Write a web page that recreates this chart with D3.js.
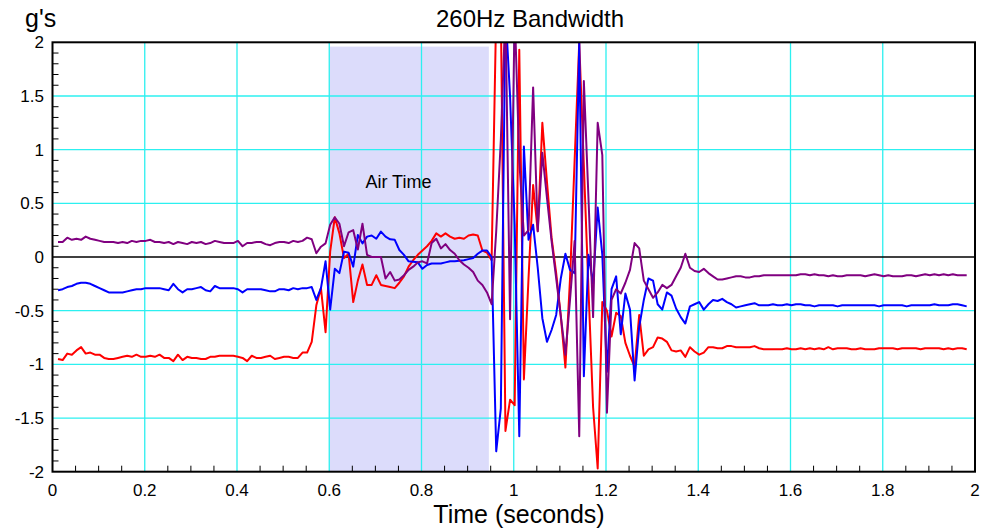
<!DOCTYPE html>
<html>
<head>
<meta charset="utf-8">
<script src="https://cdn.jsdelivr.net/npm/d3@7"></script>
<style>
  body { margin: 0; background: #fff; }
  svg text { font-family: "Liberation Sans", Arial, Helvetica, sans-serif; fill: #000; }
</style>
</head>
<body>
<svg id="chart"></svg>
<script>
const SVG_W = 990;
const SVG_H = 532;

// sampling of the three traces: first sample time and step (seconds)
const T0 = 0.012;
const DT = 0.01;

const X_TICKS = [0, 0.2, 0.4, 0.6, 0.8, 1, 1.2, 1.4, 1.6, 1.8, 2];
const Y_TICKS = [-2, -1.5, -1, -0.5, 0, 0.5, 1, 1.5, 2];

const AIR_TIME = { start: 0.6, end: 0.946, top: 1.96, label: 'Air Time', labelX: 0.75, labelY: 0.64 };

const purple = [
  0.14, 0.14, 0.18, 0.16, 0.17, 0.16, 0.19, 0.17, 0.16, 0.15,
  0.14, 0.14, 0.14, 0.13, 0.14, 0.13, 0.15, 0.14, 0.15, 0.15,
  0.16, 0.14, 0.14, 0.13, 0.14, 0.12, 0.14, 0.13, 0.12, 0.14,
  0.13, 0.14, 0.12, 0.13, 0.15, 0.14, 0.13, 0.13, 0.13, 0.15,
  0.10, 0.13, 0.13, 0.14, 0.14, 0.12, 0.11, 0.13, 0.14, 0.14,
  0.13, 0.15, 0.14, 0.15, 0.18, 0.165, 0.035, 0.096, 0.127, 0.30,
  0.37, 0.31, 0.10, 0.23, 0.25, 0.07, 0.31, 0.02, 0.00, 0.00,
  0.00, -0.20, -0.14, -0.22, -0.21, -0.17, -0.12, -0.09, -0.05, -0.04,
  -0.06, 0.13, 0.17, 0.08, 0.12, 0.065, 0.03, -0.03, -0.07, -0.10,
  -0.14, -0.22, -0.26, -0.33, -0.44, 0.24, 1.09, 2.3, -0.58, 2.3,
  0.9, 0.2, 0.25, 1.58, 0.24, 0.97, 0.55, 0.15, -0.2, -0.55,
  -0.91, -0.4, 0.15, -1.67, 1.64, 0.55, -0.56, 1.25, 0.95, -1.45,
  -0.40, -0.30, -0.34, -0.24, -0.12, 0.13, 0.08, -0.22, -0.30, -0.38,
  -0.33, -0.26, -0.29, -0.26, -0.18, -0.10, 0.03, -0.10, -0.13, -0.14,
  -0.11, -0.15, -0.18, -0.21, -0.21, -0.20, -0.19, -0.18, -0.18, -0.19,
  -0.19, -0.18, -0.18, -0.17, -0.17, -0.17, -0.17, -0.17, -0.17, -0.17,
  -0.17, -0.16, -0.16, -0.17, -0.16, -0.17, -0.17, -0.18, -0.17, -0.18,
  -0.18, -0.17, -0.17, -0.17, -0.17, -0.18, -0.17, -0.16, -0.17, -0.18,
  -0.17, -0.18, -0.18, -0.18, -0.17, -0.17, -0.18, -0.17, -0.16, -0.17,
  -0.16, -0.17, -0.16, -0.17, -0.16, -0.17, -0.17, -0.17
];

const blue = [
  -0.31, -0.30, -0.28, -0.27, -0.25, -0.24, -0.24, -0.25, -0.27, -0.29,
  -0.31, -0.33, -0.33, -0.33, -0.33, -0.32, -0.31, -0.30, -0.30, -0.29,
  -0.29, -0.29, -0.29, -0.30, -0.31, -0.25, -0.30, -0.33, -0.30, -0.30,
  -0.29, -0.28, -0.31, -0.32, -0.27, -0.29, -0.29, -0.29, -0.29, -0.30,
  -0.33, -0.30, -0.30, -0.30, -0.30, -0.31, -0.32, -0.32, -0.30, -0.30,
  -0.31, -0.29, -0.30, -0.29, -0.29, -0.28, -0.40, -0.29, -0.04, -0.49,
  -0.11, -0.15, 0.05, 0.04, -0.09, 0.205, 0.127, 0.19, 0.20, 0.17,
  0.236, 0.19, 0.165, 0.16, 0.065, 0.02, -0.04, -0.045, -0.05, -0.11,
  -0.075, -0.06, -0.06, -0.06, -0.05, -0.04, -0.04, -0.035, -0.03, -0.02,
  -0.01, 0.03, 0.06, 0.06, 0.0, -1.81, -1.41, 2.3, 1.5, 0.3,
  -1.67, 1.03, 0.16, 0.30, -0.1, -0.57, -0.79, -0.68, -0.54, -0.2,
  0.03, -0.12, -0.15, 2.0, -1.11, 0.02, -0.25, 0.46, 0.02, -1.07,
  -0.30, -0.18, -0.72, -0.34, -0.49, -1.15, -0.65, -0.40, -0.20, -0.22,
  -0.44, -0.49, -0.33, -0.36, -0.48, -0.56, -0.62, -0.46, -0.44, -0.42,
  -0.49, -0.44, -0.40, -0.41, -0.39, -0.42, -0.44, -0.47, -0.46, -0.45,
  -0.44, -0.43, -0.45, -0.45, -0.45, -0.44, -0.45, -0.45, -0.44, -0.45,
  -0.44, -0.44, -0.45, -0.45, -0.46, -0.45, -0.45, -0.45, -0.45, -0.46,
  -0.45, -0.45, -0.45, -0.45, -0.45, -0.45, -0.45, -0.45, -0.46, -0.45,
  -0.45, -0.45, -0.45, -0.45, -0.46, -0.45, -0.45, -0.45, -0.45, -0.45,
  -0.44, -0.45, -0.45, -0.45, -0.44, -0.44, -0.45, -0.46
];

const red = [
  -0.95, -0.96, -0.90, -0.91, -0.87, -0.84, -0.90, -0.89, -0.91, -0.91,
  -0.94, -0.95, -0.95, -0.94, -0.93, -0.92, -0.93, -0.91, -0.93, -0.93,
  -0.92, -0.93, -0.91, -0.94, -0.94, -0.97, -0.91, -0.96, -0.93, -0.94,
  -0.94, -0.95, -0.95, -0.93, -0.93, -0.92, -0.92, -0.92, -0.92, -0.93,
  -0.94, -0.97, -0.92, -0.94, -0.94, -0.93, -0.92, -0.95, -0.94, -0.93,
  -0.93, -0.94, -0.94, -0.89, -0.89, -0.79, -0.45, -0.29, -0.70, 0.05,
  0.37, 0.22, -0.01, 0.03, -0.42, -0.22, -0.07, -0.26, -0.26, -0.17,
  -0.26, -0.27, -0.28, -0.29, -0.24, -0.18, -0.09, -0.03, 0.02, 0.06,
  0.10, 0.15, 0.22, 0.19, 0.22, 0.19, 0.17, 0.18, 0.17, 0.20,
  0.21, 0.20, 0.06, 0.04, -0.03, 2.3, 2.3, -1.62, -1.33, -1.38,
  1.93, -1.14, -0.2, 0.67, 0.24, 1.25, 0.70, 0.18, -0.15, -0.55,
  -1.03, -0.2, 0.9, 2.0, 0.85, -0.3, -1.4, -1.97, -0.42, -0.50,
  -0.74, -0.52, -0.55, -0.80, -0.92, -1.02, -0.54, -0.92, -0.86, -0.84,
  -0.75, -0.76, -0.79, -0.87, -0.88, -0.87, -0.93, -0.84, -0.88, -0.91,
  -0.89, -0.84, -0.84, -0.85, -0.85, -0.83, -0.83, -0.84, -0.84, -0.84,
  -0.84, -0.83, -0.85, -0.86, -0.86, -0.86, -0.86, -0.86, -0.85, -0.86,
  -0.86, -0.85, -0.86, -0.85, -0.86, -0.85, -0.86, -0.84, -0.86, -0.85,
  -0.85, -0.85, -0.86, -0.86, -0.85, -0.86, -0.86, -0.86, -0.85, -0.85,
  -0.85, -0.85, -0.86, -0.85, -0.85, -0.85, -0.85, -0.86, -0.85, -0.85,
  -0.85, -0.85, -0.86, -0.85, -0.86, -0.85, -0.85, -0.86
];

const SERIES = [
  { name: 'red',    values: red,    color: '#ff0000' },
  { name: 'blue',   values: blue,   color: '#0000ff' },
  { name: 'purple', values: purple, color: '#800080' }
];

const xScale = d3.scaleLinear().domain([0, 2]).range([52.5, 975]);
const yScale = d3.scaleLinear().domain([-2, 2]).range([471.7, 42.3]);

const svg = d3.select('#chart')
  .attr('width', SVG_W)
  .attr('height', SVG_H)
  .attr('viewBox', `0 0 ${SVG_W} ${SVG_H}`);

svg.append('defs').append('clipPath')
  .attr('id', 'plot-clip')
  .append('rect')
  .attr('x', xScale(0)).attr('y', yScale(2))
  .attr('width', xScale(2) - xScale(0))
  .attr('height', yScale(-2) - yScale(2));

// air time band
svg.append('rect')
  .attr('x', xScale(AIR_TIME.start))
  .attr('y', yScale(AIR_TIME.top))
  .attr('width', xScale(AIR_TIME.end) - xScale(AIR_TIME.start))
  .attr('height', yScale(-2) - yScale(AIR_TIME.top))
  .attr('fill', '#dcdcfb');

// grid
const grid = svg.append('g').attr('stroke', '#2cf0f0').attr('stroke-width', 1.3);
X_TICKS.slice(1, -1).forEach(t => {
  grid.append('line')
    .attr('x1', xScale(t)).attr('x2', xScale(t))
    .attr('y1', yScale(2)).attr('y2', yScale(-2));
});
Y_TICKS.slice(1, -1).filter(v => v !== 0).forEach(v => {
  grid.append('line')
    .attr('x1', xScale(0)).attr('x2', xScale(2))
    .attr('y1', yScale(v)).attr('y2', yScale(v));
});

// minor ticks, pointing inward
const ticks = svg.append('g').attr('stroke', '#000').attr('stroke-width', 1);
d3.range(1, 40).filter(i => i % 4 !== 0).forEach(i => {
  const x = xScale(i * 0.05);
  ticks.append('line')
    .attr('x1', x).attr('x2', x)
    .attr('y1', yScale(-2)).attr('y2', yScale(-2) - 6);
});
d3.range(-19, 20).filter(i => i % 5 !== 0).forEach(i => {
  const y = yScale(i * 0.1);
  ticks.append('line')
    .attr('x1', xScale(0)).attr('x2', xScale(0) + 6)
    .attr('y1', y).attr('y2', y);
});

// zero line
svg.append('line')
  .attr('x1', xScale(0)).attr('x2', xScale(2))
  .attr('y1', yScale(0)).attr('y2', yScale(0))
  .attr('stroke', '#000').attr('stroke-width', 1.6);

svg.append('text')
  .attr('x', xScale(AIR_TIME.labelX))
  .attr('y', yScale(AIR_TIME.labelY))
  .attr('text-anchor', 'middle')
  .attr('font-size', 18)
  .text(AIR_TIME.label);

// traces
const line = d3.line()
  .x((d, i) => xScale(T0 + i * DT))
  .y(d => yScale(d));

const traces = svg.append('g').attr('clip-path', 'url(#plot-clip)');
SERIES.forEach(s => {
  traces.append('path')
    .datum(s.values)
    .attr('d', line)
    .attr('fill', 'none')
    .attr('stroke', s.color)
    .attr('stroke-width', 2)
    .attr('stroke-linejoin', 'round');
});

// frame
svg.append('rect')
  .attr('x', xScale(0)).attr('y', yScale(2))
  .attr('width', xScale(2) - xScale(0))
  .attr('height', yScale(-2) - yScale(2))
  .attr('fill', 'none')
  .attr('stroke', '#000')
  .attr('stroke-width', 2);

// tick labels
svg.append('g').selectAll('text')
  .data(X_TICKS)
  .join('text')
  .attr('x', d => xScale(d))
  .attr('y', 496)
  .attr('text-anchor', 'middle')
  .attr('font-size', 17)
  .text(d => String(d));

svg.append('g').selectAll('text')
  .data(Y_TICKS)
  .join('text')
  .attr('x', 44)
  .attr('y', d => yScale(d))
  .attr('dy', '0.36em')
  .attr('text-anchor', 'end')
  .attr('font-size', 17)
  .text(d => String(d));

svg.append('text')
  .attr('x', 25).attr('y', 27)
  .attr('font-size', 25)
  .text("g's");

svg.append('text')
  .attr('x', 530).attr('y', 27)
  .attr('text-anchor', 'middle')
  .attr('font-size', 24)
  .text('260Hz Bandwidth');

svg.append('text')
  .attr('x', 519).attr('y', 523)
  .attr('text-anchor', 'middle')
  .attr('font-size', 25)
  .text('Time (seconds)');
</script>
</body>
</html>
